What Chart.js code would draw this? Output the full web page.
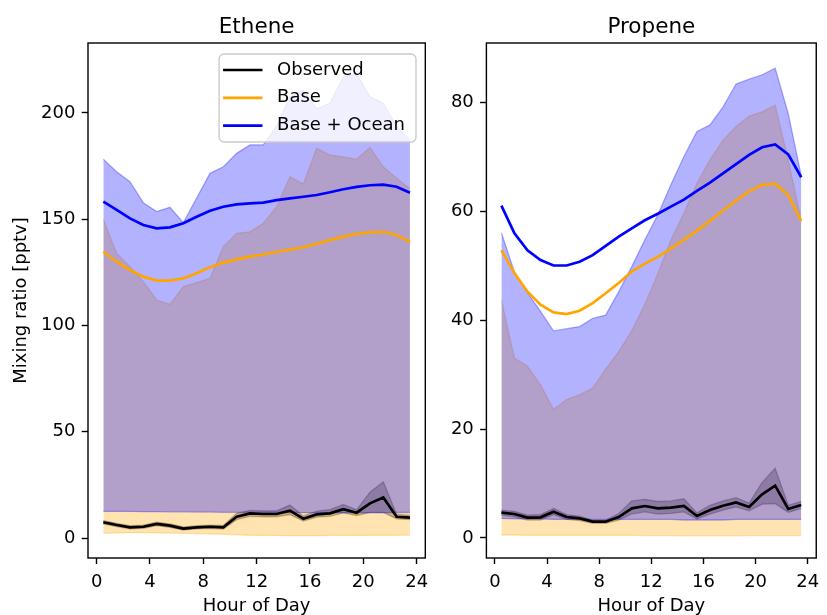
<!DOCTYPE html>
<html>
<head>
<meta charset="utf-8">
<title>Ethene / Propene diurnal cycle</title>
<script src="https://cdn.jsdelivr.net/npm/chart.js@4.4.1/dist/chart.umd.min.js"></script>
<style>
  html, body { margin: 0; padding: 0; background: #fff; }
  #wrap { position: relative; width: 827px; height: 615px; overflow: hidden; }
  canvas { position: absolute; top: 0; }
  #cEthene { left: 0; }
  #cPropene { left: 440px; }
</style>
</head>
<body>
<div id="wrap">
  <canvas id="cEthene" width="440" height="615"></canvas>
  <canvas id="cPropene" width="387" height="615"></canvas>
</div>
<script>
// hour of day (bin centres)
const hours = [0.5, 1.5, 2.5, 3.5, 4.5, 5.5, 6.5, 7.5, 8.5, 9.5, 10.5, 11.5,
               12.5, 13.5, 14.5, 15.5, 16.5, 17.5, 18.5, 19.5, 20.5, 21.5, 22.5, 23.5]
const xTicks = [0, 4, 8, 12, 16, 20, 24]
const ethTicks = [0, 50, 100, 150, 200]
const propTicks = [0, 20, 40, 60, 80]

// Ethene [pptv]
const ethObs   = [7.4, 6.1, 5.0, 5.3, 6.6, 5.8, 4.4, 5.0, 5.3, 5.0, 10.0, 11.6, 11.3, 11.3, 12.9, 9.1, 11.1, 11.6, 13.6, 11.9, 16.3, 19.1, 10.0, 9.6]
const ethObsLo = [6.6, 5.4, 4.3, 4.6, 5.8, 5.0, 3.7, 4.3, 4.5, 4.2, 8.6, 10.2, 10.0, 10.0, 11.0, 8.0, 9.8, 10.2, 11.8, 10.6, 12.0, 12.0, 9.0, 8.7]
const ethObsHi = [8.2, 6.9, 5.8, 6.1, 7.4, 6.6, 5.2, 5.8, 6.1, 5.9, 11.6, 13.0, 12.8, 12.8, 15.5, 10.4, 12.6, 13.4, 15.8, 13.3, 21.5, 26.5, 11.2, 10.6]

const ethBase   = [134.7, 130.0, 126.1, 123.0, 121.1, 121.1, 122.2, 124.6, 127.4, 129.6, 131.1, 132.4, 133.4, 134.6, 135.7, 136.8, 138.4, 140.2, 141.8, 143.1, 143.8, 144.1, 142.6, 139.4]
const ethBaseLo = [2.2, 2.4, 2.5, 2.5, 2.4, 2.3, 2.2, 2.1, 2.0, 1.8, 1.5, 1.3, 1.2, 1.2, 1.1, 1.1, 1.1, 1.2, 1.2, 1.2, 1.3, 1.3, 1.3, 1.4]
const ethBaseHi = [150.0, 134.0, 127.7, 120.6, 112.0, 110.0, 118.3, 120.2, 122.2, 137.1, 143.4, 144.1, 148.1, 155.9, 170.0, 166.6, 183.4, 180.2, 179.4, 178.2, 183.8, 174.7, 169.3, 164.5]

const ethOcean   = [158.3, 154.4, 150.4, 147.3, 145.7, 146.2, 148.1, 151.2, 154.0, 155.9, 157.0, 157.5, 157.8, 159.0, 159.8, 160.6, 161.4, 162.7, 164.1, 165.2, 166.0, 166.3, 165.3, 162.5]
const ethOceanLo = [12.5, 12.5, 12.5, 12.4, 12.4, 12.3, 12.3, 12.2, 12.2, 12.1, 12.1, 12.0, 12.0, 12.0, 12.0, 11.9, 11.9, 11.9, 11.9, 11.9, 11.9, 11.9, 12.0, 12.0]
const ethOceanHi = [178.2, 172.4, 167.7, 157.8, 153.6, 155.6, 148.4, 160.0, 171.6, 174.7, 181.0, 185.0, 185.0, 194.0, 207.7, 210.8, 202.0, 204.7, 217.0, 218.7, 207.7, 204.6, 193.6, 187.3]

// Propene [pptv]
const propObs   = [4.65, 4.4, 3.73, 3.79, 4.83, 3.85, 3.6, 3.0, 3.0, 3.85, 5.44, 5.87, 5.44, 5.57, 5.87, 4.04, 5.14, 5.93, 6.54, 5.69, 8.0, 9.6, 5.32, 6.05]
const propObsLo = [4.2, 3.9, 3.3, 3.3, 4.3, 3.4, 3.2, 2.7, 2.7, 3.3, 4.4, 4.8, 4.4, 4.5, 4.8, 3.5, 4.4, 5.1, 5.7, 5.0, 6.2, 6.3, 4.7, 5.4]
const propObsHi = [5.1, 4.9, 4.2, 4.3, 5.4, 4.3, 4.0, 3.3, 3.3, 4.5, 6.8, 7.1, 6.7, 6.8, 7.2, 4.6, 6.0, 6.8, 7.4, 6.4, 10.2, 12.8, 6.0, 6.7]

const propBase   = [52.8, 48.6, 45.2, 42.8, 41.4, 41.1, 41.7, 43.1, 44.9, 46.8, 48.9, 50.3, 51.6, 53.1, 54.7, 56.4, 58.2, 60.1, 61.9, 63.6, 64.8, 65.0, 62.9, 58.2]
const propBaseLo = [0.55, 0.55, 0.5, 0.5, 0.5, 0.5, 0.5, 0.5, 0.5, 0.5, 0.5, 0.45, 0.45, 0.45, 0.4, 0.4, 0.4, 0.4, 0.4, 0.45, 0.45, 0.45, 0.45, 0.45]
const propBaseHi = [43.7, 33.0, 31.5, 28.1, 23.6, 25.4, 26.3, 27.5, 31.0, 34.2, 38.0, 42.9, 48.5, 54.7, 59.6, 65.1, 69.4, 73.0, 75.5, 77.4, 78.2, 79.4, 69.4, 58.3]

const propOcean   = [61.0, 55.9, 52.8, 51.0, 50.0, 50.0, 50.7, 51.9, 53.6, 55.3, 56.8, 58.3, 59.5, 60.8, 62.1, 63.7, 65.2, 66.9, 68.6, 70.3, 71.7, 72.2, 70.4, 66.2]
const propOceanLo = [3.6, 3.5, 3.5, 3.5, 3.4, 3.4, 3.4, 3.4, 3.4, 3.4, 3.4, 3.4, 3.4, 3.4, 3.3, 3.3, 3.3, 3.3, 3.4, 3.4, 3.4, 3.4, 3.4, 3.4]
const propOceanHi = [56.0, 48.8, 45.0, 41.6, 38.0, 38.4, 38.8, 40.3, 40.9, 45.2, 49.8, 54.7, 59.3, 64.8, 70.0, 74.6, 75.8, 79.1, 83.3, 84.2, 85.0, 86.2, 77.9, 66.5]

Chart.defaults.font.family = "'DejaVu Sans', sans-serif"
Chart.defaults.font.size = 18
Chart.defaults.color = '#000'

const pts = arr => hours.map((h, i) => ({ x: h, y: arr[i] }))

// lower edge, then upper edge filled down to it.
// higher "order" is painted first, so obs < base < ocean in stacking
function band(lo, hi, rgb, order) {
    const c = `rgba(${rgb},0.3)`
    return [
        { data: pts(lo), borderColor: c, borderWidth: 1.3, pointRadius: 0, fill: false, order },
        { data: pts(hi), borderColor: c, borderWidth: 1.3, pointRadius: 0, fill: '-1', backgroundColor: c, order }
    ]
}

function line(label, arr, color) {
    return { label, inLegend: true, data: pts(arr), borderColor: color, borderWidth: 2.7,
             pointRadius: 0, fill: false, order: 0 }
}

// box round the plot area
const frame = {
    id: 'frame',
    afterDatasetsDraw(chart) {
        const { ctx, chartArea: a } = chart
        ctx.save()
        ctx.strokeStyle = '#000'
        ctx.lineWidth = 1.4
        ctx.strokeRect(a.left, a.top, a.right - a.left, a.bottom - a.top)
        ctx.restore()
    }
}

// legend drawn inside the axes, upper right
const innerLegend = {
    id: 'innerLegend',
    afterDraw(chart, args, opts) {
        if (!opts.show) return
        const { ctx, chartArea: a } = chart
        const items = chart.data.datasets.filter(d => d.inLegend)
        ctx.save()
        ctx.font = "18px 'DejaVu Sans', sans-serif"
        const maxW = Math.max(...items.map(d => ctx.measureText(d.label).width))
        const w = 4 + 39.4 + 14.6 + maxW + 11
        const h = 88
        const x = a.right - 9.3 - w
        const y = a.top + 11
        ctx.beginPath()
        ctx.roundRect(x, y, w, h, 5)
        ctx.fillStyle = 'rgba(255,255,255,0.8)'
        ctx.fill()
        ctx.strokeStyle = '#cccccc'
        ctx.lineWidth = 1.4
        ctx.stroke()
        ctx.textBaseline = 'middle'
        items.forEach((d, i) => {
            const cy = y + 16 + i * 27.8
            ctx.strokeStyle = d.borderColor
            ctx.lineWidth = 2.7
            ctx.beginPath()
            ctx.moveTo(x + 4, cy)
            ctx.lineTo(x + 43.4, cy)
            ctx.stroke()
            ctx.fillStyle = '#000'
            ctx.fillText(d.label, x + 58, cy)
        })
        ctx.restore()
    }
}

function makePanel(canvas, p) {
    return new Chart(canvas, {
        type: 'line',
        data: {
            datasets: [
                ...band(p.obsLo, p.obsHi, '0,0,0', 3),
                ...band(p.baseLo, p.baseHi, '255,165,0', 2),
                ...band(p.oceanLo, p.oceanHi, '0,0,255', 1),
                line('Observed', p.obs, '#000000'),
                line('Base', p.base, '#ffa500'),
                line('Base + Ocean', p.ocean, '#0000ff')
            ]
        },
        options: {
            responsive: false,
            animation: false,
            layout: { padding: { left: 0, right: p.padRight, top: 0, bottom: 0 } },
            plugins: {
                legend: { display: false },
                tooltip: { enabled: false },
                title: {
                    display: true, text: p.title, fullSize: false, color: '#000',
                    font: { size: 21.5, weight: 'normal' },
                    padding: { top: 14.7, bottom: 2.5 }
                },
                innerLegend: { show: p.legend }
            },
            scales: {
                x: {
                    type: 'linear', min: -0.65, max: 24.65,
                    afterBuildTicks: s => { s.ticks = xTicks.map(v => ({ value: v })) },
                    afterFit: s => { s.height = 57 },
                    border: { display: false },
                    grid: { drawOnChartArea: false, drawTicks: true, tickLength: 6, tickColor: '#000', tickWidth: 1.4 },
                    ticks: { padding: 7.5, maxRotation: 0, color: '#000' },
                    title: { display: true, text: 'Hour of Day', color: '#000', padding: { top: 0, bottom: -2.6 } }
                },
                y: {
                    type: 'linear', min: p.yMin, max: p.yMax,
                    afterBuildTicks: s => { s.ticks = p.yTicks.map(v => ({ value: v })) },
                    afterFit: s => { s.width = p.yWidth },
                    border: { display: false },
                    grid: { drawOnChartArea: false, drawTicks: true, tickLength: 6.3, tickColor: '#000', tickWidth: 1.4 },
                    ticks: { padding: 6.3, color: '#000' },
                    title: { display: p.yTitle, text: 'Mixing ratio [pptv]', color: '#000', padding: { top: 11 } }
                }
            }
        },
        plugins: [frame, innerLegend]
    })
}

makePanel(document.querySelector('#cEthene'), {
    title: 'Ethene', legend: true, yTitle: true,
    obs: ethObs, obsLo: ethObsLo, obsHi: ethObsHi,
    base: ethBase, baseLo: ethBaseLo, baseHi: ethBaseHi,
    ocean: ethOcean, oceanLo: ethOceanLo, oceanHi: ethOceanHi,
    yMin: -9.41, yMax: 232.94, yTicks: ethTicks, yWidth: 88, padRight: 14.7
})

makePanel(document.querySelector('#cPropene'), {
    title: 'Propene', legend: false, yTitle: false,
    obs: propObs, obsLo: propObsLo, obsHi: propObsHi,
    base: propBase, baseLo: propBaseLo, baseHi: propBaseHi,
    ocean: propOcean, oceanLo: propOceanLo, oceanHi: propOceanHi,
    yMin: -3.67, yMax: 90.83, yTicks: propTicks, yWidth: 46.4, padRight: 5
})
</script>
</body>
</html>
